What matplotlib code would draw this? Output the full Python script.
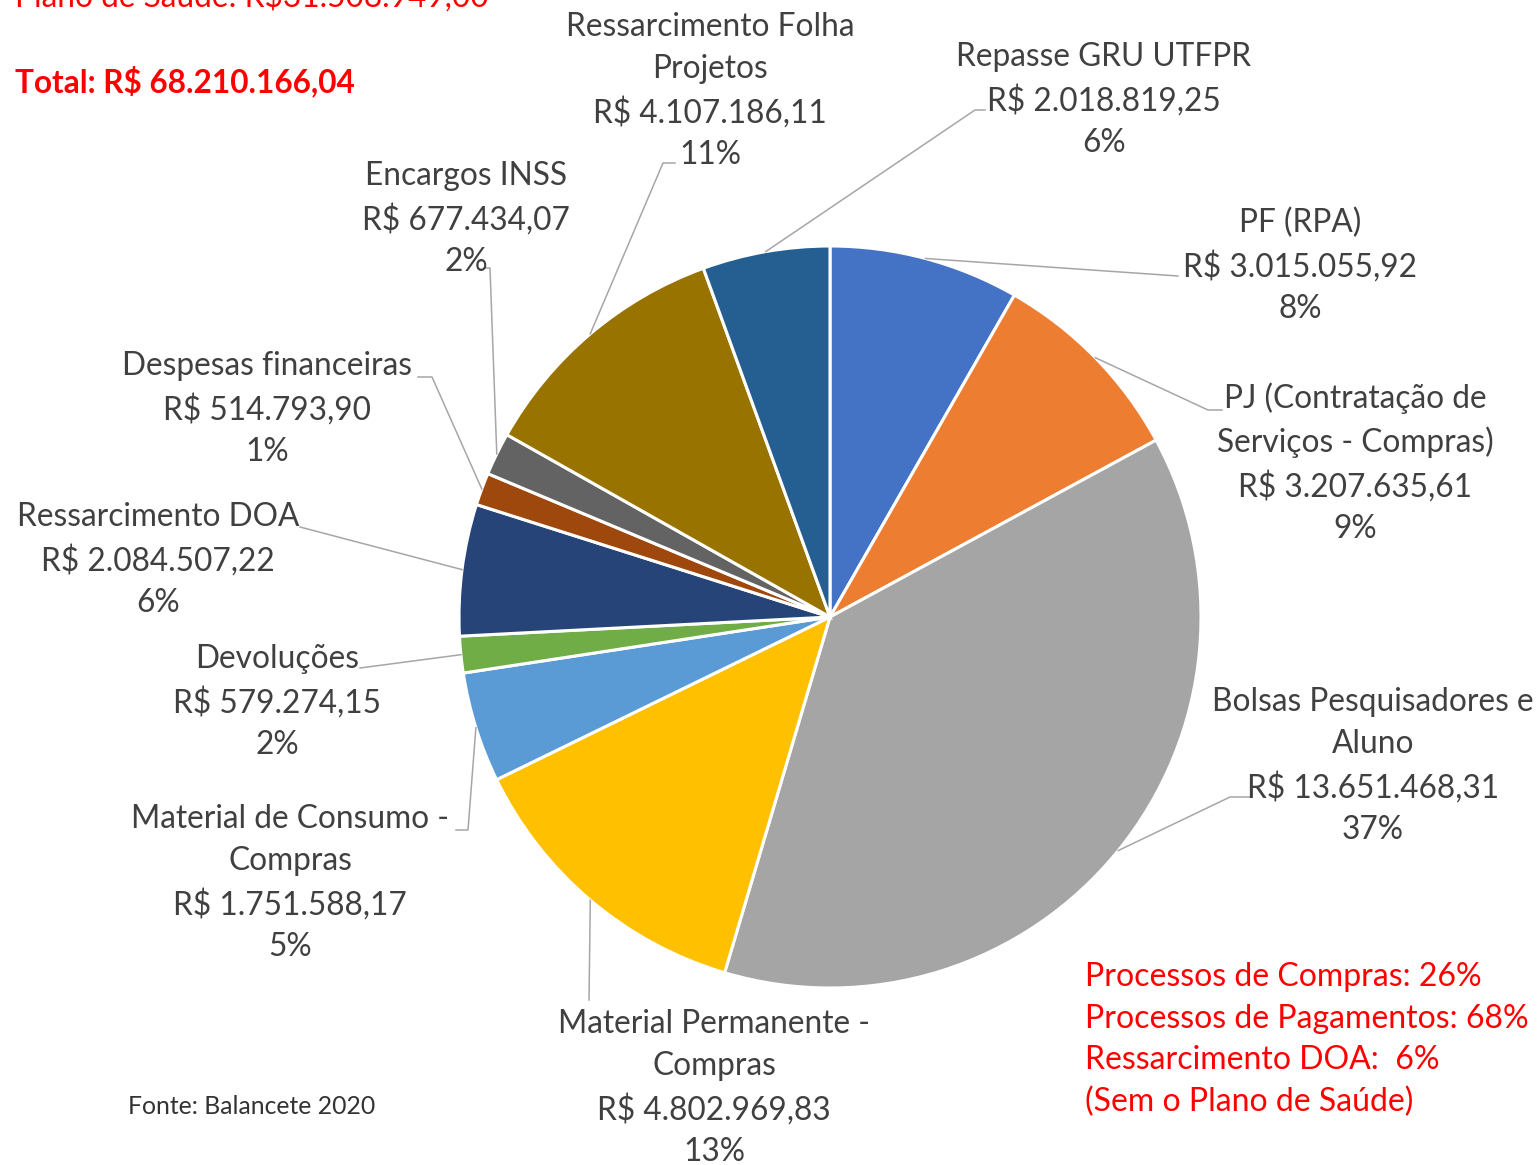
import numpy as np
import matplotlib
matplotlib.use("Agg")
from matplotlib import pyplot as plt

plt.rcParams['font.family'] = ['Lato', 'DejaVu Sans']

# slices, clockwise from 12 o'clock
names = ['PF (RPA)', 'PJ (Contratação de\nServiços - Compras)', 'Bolsas Pesquisadores e\nAluno',
         'Material Permanente -\nCompras', 'Material de Consumo -\nCompras', 'Devoluções',
         'Ressarcimento DOA', 'Despesas financeiras', 'Encargos INSS',
         'Ressarcimento Folha\nProjetos', 'Repasse GRU UTFPR']
values = [3015055.92, 3207635.61, 13651468.31, 4802969.83, 1751588.17, 579274.15,
          2084507.22, 514793.90, 677434.07, 4107186.11, 2018819.25]
colors = ['#4472C4', '#ED7D31', '#A5A5A5', '#FFC000', '#5B9BD5', '#70AD47',
          '#264478', '#9E480E', '#636363', '#997300', '#255E91']

total_text = 'Total: R$ 68.210.166,04'
plano_text = 'Plano de Saúde: R$31.508.949,00'
notes = 'Processos de Compras: 26%\nProcessos de Pagamentos: 68%\nRessarcimento DOA:  6%\n(Sem o Plano de Saúde)'
fonte = 'Fonte: Balancete 2020'

W, H = 1540, 1165
# label centres and leader elbows, pixel coords (y down)
label_pos = [(1300, 266), (1355, 463), (1373, 766), (714, 1088), (290, 883), (277, 702),
             (158, 560), (267, 409), (466, 219), (710, 91), (1104, 100)]
elbows = [[(1178, 276)], [(1208, 410), (1222, 410)], [(1230, 797), (1250, 797)],
          [(589, 1000)], [(468, 830), (456, 830)], [(360, 668)], [(300, 527)],
          [(432, 377), (418, 377)], [(490, 268), (484, 268)], [(663, 163), (675, 163)],
          [(975, 110), (985, 110)]]

cx, cy, r = 830, H - 617, 371


def brl(v):
    s = '{:,.2f}'.format(v)
    return 'R$ ' + s.replace(',', '#').replace('.', ',').replace('#', '.')


fig = plt.figure(figsize=(W / 100, H / 100), dpi=100)
ax = fig.add_axes([0, 0, 1, 1])
wedges, _ = ax.pie(values, colors=colors, startangle=90, counterclock=False,
                   center=(cx, cy), radius=r,
                   wedgeprops=dict(edgecolor='white', linewidth=2.2))
ax.set_xlim(0, W)
ax.set_ylim(0, H)
ax.set_aspect('equal')
ax.axis('off')

tot = sum(values)
for w, n, v, (lx, ly), el in zip(wedges, names, values, label_pos, elbows):
    ang = np.deg2rad((w.theta1 + w.theta2) / 2)
    x0, y0 = cx + r * np.cos(ang), cy + r * np.sin(ang)
    xs = [x0] + [p[0] for p in el]
    ys = [y0] + [H - p[1] for p in el]
    ax.plot(xs, ys, color='#A6A6A6', lw=1.1, zorder=1)
    pct = round(v / tot * 100)
    ax.text(lx, H - ly, '%s\n%s\n%d%%' % (n, brl(v), pct), ha='center', va='center',
            fontsize=22.8, color='#404040', linespacing=1.48)

ax.text(15, H - 81, total_text, color='#FF0000', fontsize=22.7, fontweight='bold', va='center')
ax.text(15, H + 3, plano_text, color='#FF0000', fontsize=22.8, va='center')
ax.text(1085, H - 1040, notes, color='#FF0000', fontsize=23, va='center', linespacing=1.48)
ax.text(128, H - 1106, fonte, color='#333333', fontsize=17.8, va='center')

fig.savefig('out.png', dpi=100)
